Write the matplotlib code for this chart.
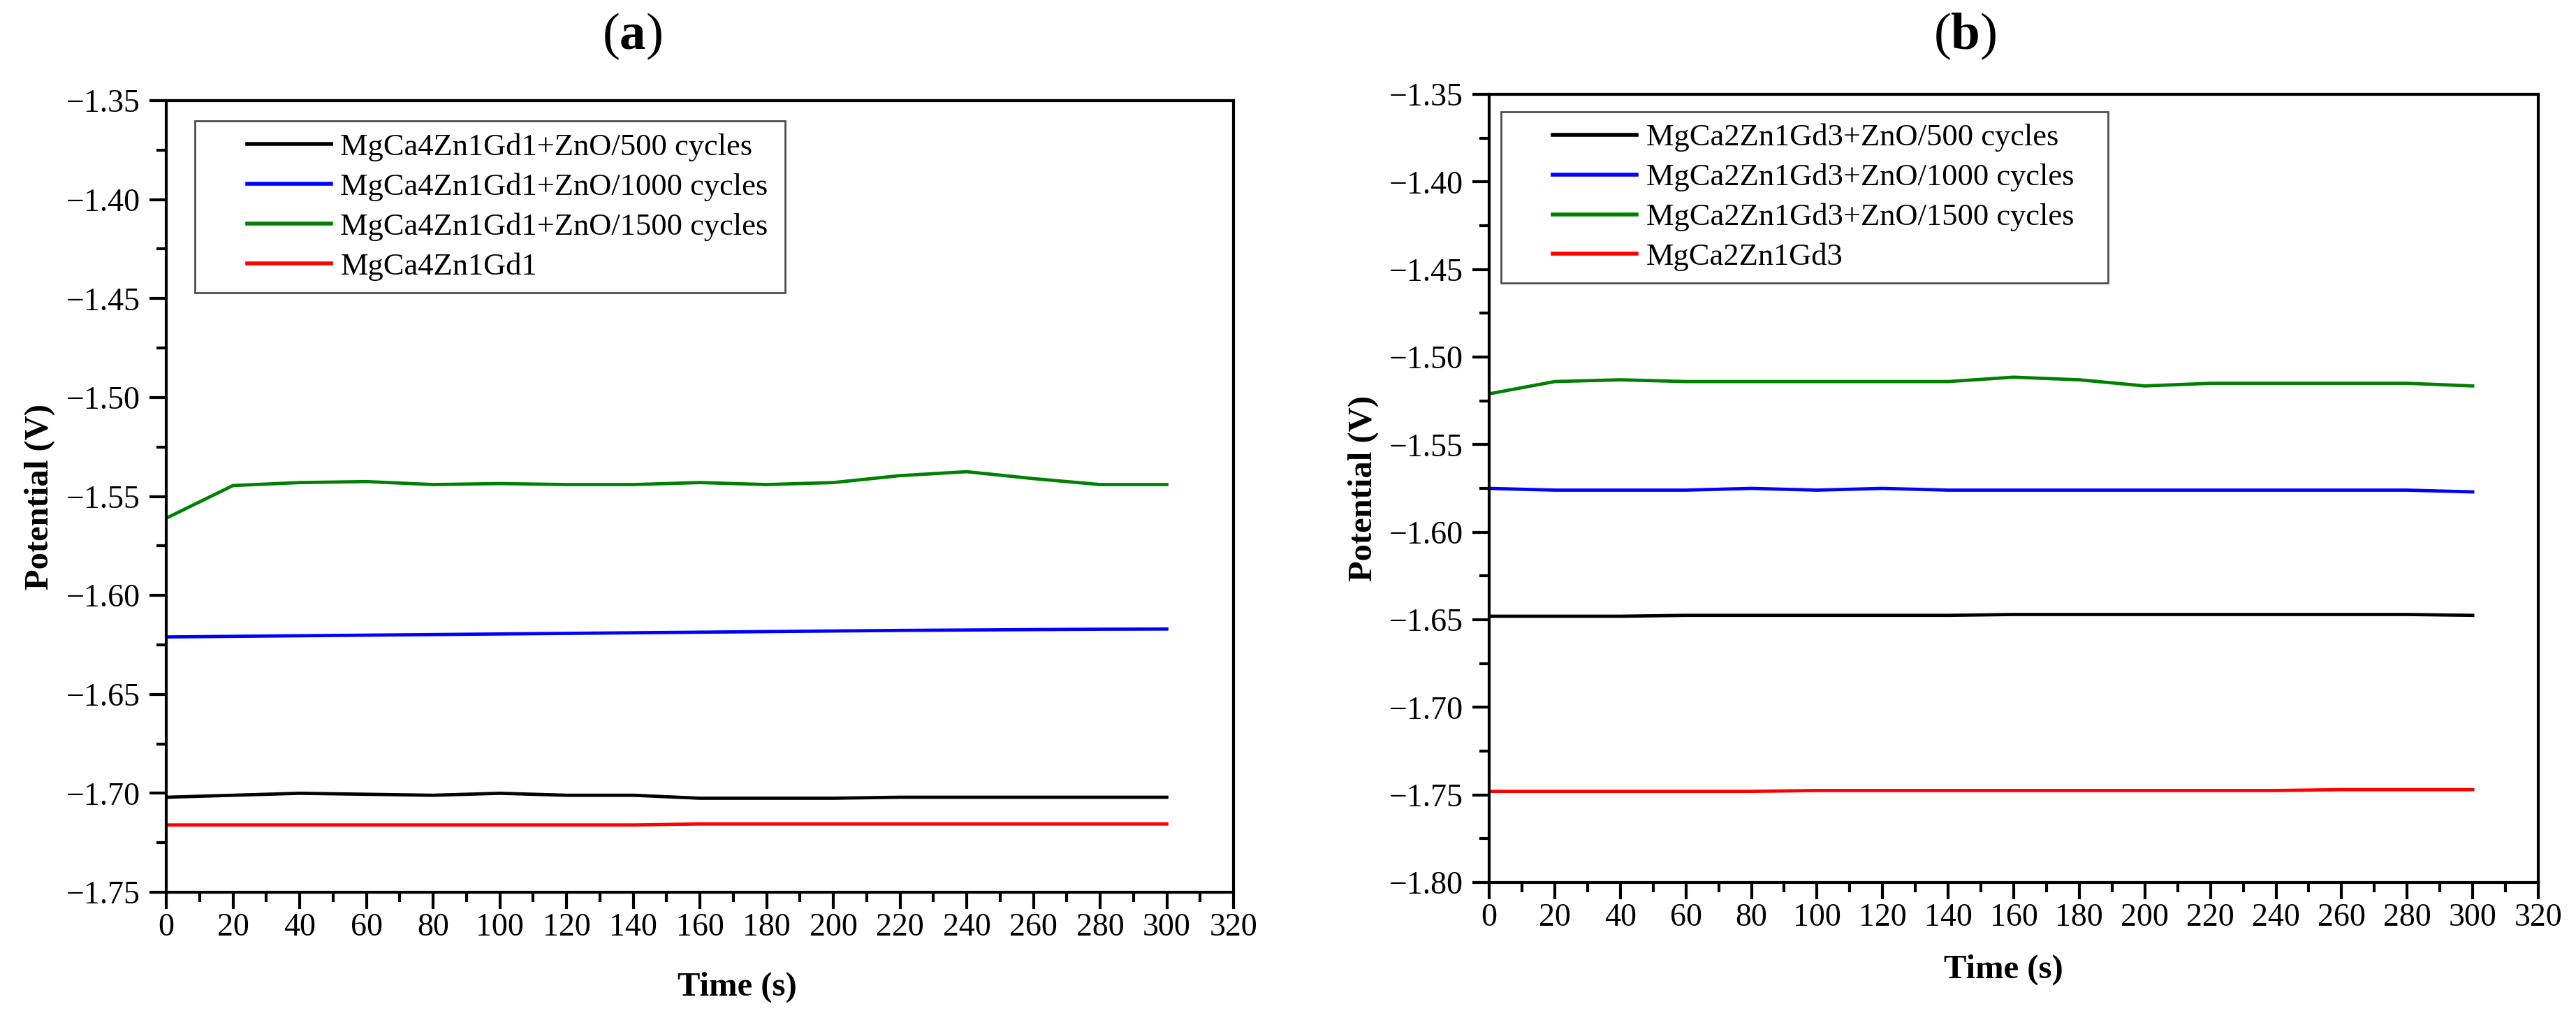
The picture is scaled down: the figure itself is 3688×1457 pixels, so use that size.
import matplotlib
matplotlib.use("Agg")
import matplotlib.pyplot as plt
from matplotlib.ticker import MultipleLocator, FuncFormatter
from matplotlib.legend_handler import HandlerLine2D
from matplotlib.lines import Line2D

plt.rcParams['font.family'] = ['Liberation Serif', 'DejaVu Serif']
plt.rcParams['mathtext.fontset'] = 'custom'
plt.rcParams['mathtext.rm'] = 'Liberation Serif'
plt.rcParams['mathtext.bf'] = 'Liberation Serif:bold'

time_s = [0, 20, 40, 60, 80, 100, 120, 140, 160, 180, 200, 220, 240, 260, 280, 300]

# Panel (a)
a_labels = ["MgCa4Zn1Gd1+ZnO/500 cycles", "MgCa4Zn1Gd1+ZnO/1000 cycles",
            "MgCa4Zn1Gd1+ZnO/1500 cycles", "MgCa4Zn1Gd1"]
a_500 = [-1.702, -1.701, -1.700, -1.7005, -1.701, -1.700, -1.701, -1.701,
         -1.7025, -1.7025, -1.7025, -1.702, -1.702, -1.702, -1.702, -1.702]
a_1000 = [-1.621, -1.6207, -1.6204, -1.6201, -1.6198, -1.6195, -1.6192, -1.6189,
          -1.6186, -1.6183, -1.618, -1.6177, -1.6175, -1.6173, -1.6171, -1.617]
a_1500 = [-1.561, -1.5445, -1.5430, -1.5425, -1.5440, -1.5435, -1.5440, -1.5440,
          -1.5430, -1.5440, -1.5430, -1.5395, -1.5375, -1.5410, -1.5440, -1.5440]
a_base = [-1.716, -1.716, -1.716, -1.716, -1.716, -1.716, -1.716, -1.716,
          -1.7155, -1.7155, -1.7155, -1.7155, -1.7155, -1.7155, -1.7155, -1.7155]

# Panel (b)
b_labels = ["MgCa2Zn1Gd3+ZnO/500 cycles", "MgCa2Zn1Gd3+ZnO/1000 cycles",
            "MgCa2Zn1Gd3+ZnO/1500 cycles", "MgCa2Zn1Gd3"]
b_500 = [-1.648, -1.648, -1.648, -1.6475, -1.6475, -1.6475, -1.6475, -1.6475,
         -1.647, -1.647, -1.647, -1.647, -1.647, -1.647, -1.647, -1.6475]
b_1000 = [-1.575, -1.576, -1.576, -1.576, -1.575, -1.576, -1.575, -1.576,
          -1.576, -1.576, -1.576, -1.576, -1.576, -1.576, -1.576, -1.577]
b_1500 = [-1.521, -1.514, -1.513, -1.514, -1.514, -1.514, -1.514, -1.514,
          -1.5115, -1.513, -1.5165, -1.515, -1.515, -1.515, -1.515, -1.5165]
b_base = [-1.748, -1.748, -1.748, -1.748, -1.748, -1.7475, -1.7475, -1.7475,
          -1.7475, -1.7475, -1.7475, -1.7475, -1.7475, -1.747, -1.747, -1.747]

colors = ["#000000", "#0000ff", "#008000", "#ff0000"]

W, H = 3688, 1457
fig = plt.figure(figsize=(W / 100, H / 100), dpi=100)


def px_axes(x0, y0, x1, y1):
    return fig.add_axes([x0 / W, 1 - y1 / H, (x1 - x0) / W, (y1 - y0) / H])


ax_a = px_axes(238, 144, 1766, 1277)
ax_b = px_axes(2132, 135, 3634, 1263)

fmt = FuncFormatter(lambda v, p: ("%.2f" % v).replace("-", "\u2212"))


def style(ax, series, labels, ylim, leg_anchor, xlab_pos, ylab_x):
    for s, lab, c in zip(series, labels, colors):
        ax.plot(time_s, s, color=c, lw=3.4, label=lab)
    ax.set_xlim(0, 320)
    ax.set_ylim(*ylim)
    ax.xaxis.set_major_locator(MultipleLocator(20))
    ax.xaxis.set_minor_locator(MultipleLocator(10))
    ax.yaxis.set_major_locator(MultipleLocator(0.05))
    ax.yaxis.set_minor_locator(MultipleLocator(0.025))
    ax.yaxis.set_major_formatter(fmt)
    ax.tick_params(axis='x', which='major', direction='out', length=17, width=3,
                   labelsize=33, pad=4, top=False)
    ax.tick_params(axis='y', which='major', direction='out', length=17, width=3,
                   labelsize=33, pad=10, right=False)
    ax.tick_params(which='minor', direction='out', length=10, width=3,
                   top=False, right=False)
    for sp in ax.spines.values():
        sp.set_linewidth(3)
    ax.set_xlabel("Time (s)", fontsize=35, fontweight='bold')
    ax.set_ylabel("Potential (V)", fontsize=35, fontweight='bold')
    ax.xaxis.set_label_coords(*xlab_pos)
    ax.yaxis.set_label_coords(ylab_x, 0.5)
    leg = ax.legend(loc='upper left', fontsize=32, frameon=True, fancybox=False,
                    edgecolor='#222222', handlelength=4.0, handletextpad=0.3,
                    borderpad=0.38, labelspacing=0.37, borderaxespad=0,
                    bbox_to_anchor=leg_anchor, mode='expand',
                    handler_map={Line2D: HandlerLine2D(xpad=1.3)})
    leg.get_frame().set_linewidth(2)
    for ln in leg.get_lines():
        ln.set_linewidth(4)


style(ax_a, [a_500, a_1000, a_1500, a_base], a_labels, (-1.75, -1.35),
      (0.027, 0.0, 0.553, 0.974), (0.535, -0.100), -0.104)
style(ax_b, [b_500, b_1000, b_1500, b_base], b_labels, (-1.80, -1.35),
      (0.011, 0.0, 0.579, 0.978), (0.49, -0.091), -0.105)

fig.text(905 / W, 1 - 52 / H, r"($\mathbf{a}$)", fontsize=54, ha='center', va='center')
fig.text(2813 / W, 1 - 52 / H, r"($\mathbf{b}$)", fontsize=54, ha='center', va='center')

fig.savefig("out.png", dpi=100, facecolor='white')
